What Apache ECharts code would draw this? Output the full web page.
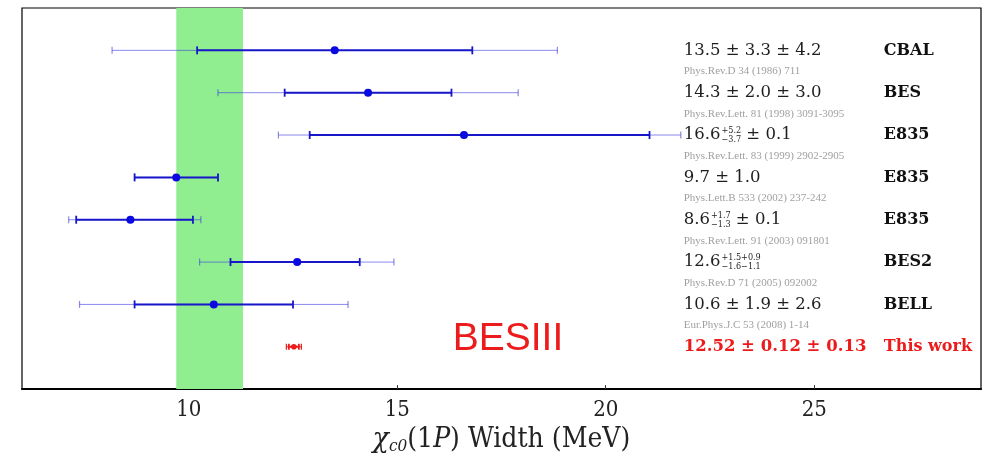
<!DOCTYPE html>
<html>
<head>
<meta charset="utf-8">
<script src="https://cdn.jsdelivr.net/npm/echarts@6/dist/echarts.min.js"></script>
<style>
  html, body { margin: 0; padding: 0; background: #fff; }
  #chart { width: 985px; height: 460px; }
</style>
</head>
<body>
<div id="chart"></div>
<script>
// chi_c0(1P) width measurements, top to bottom
const experiments = ['CBAL', 'BES', 'E835', 'E835', 'E835', 'BES2', 'BELL', 'This work'];
const rowPositions = [8, 7, 6, 5, 4, 3, 2, 1];
const centralValues = [13.5, 14.3, 16.6, 9.7, 8.6, 12.6, 10.6, 12.52];
// statistical (inner) error bar ends
const statLow  = [10.2, 12.3, 12.9, 8.7, 7.3, 11.0, 8.7, 12.40];
const statHigh = [16.8, 16.3, 21.05, 10.7, 10.1, 14.1, 12.5, 12.64];
// total (outer) error bar ends
const totalLow  = [8.16, 10.7, 12.15, 8.7, 7.12, 10.26, 7.38, 12.34];
const totalHigh = [18.84, 17.9, 21.8, 10.7, 10.29, 14.92, 13.82, 12.70];
// value text; ^{..}_{..} marks stacked super/subscripts
const valueLabels = [
  '13.5 ± 3.3 ± 4.2',
  '14.3 ± 2.0 ± 3.0',
  '16.6^{+5.2}_{−3.7} ± 0.1',
  '9.7 ± 1.0',
  '8.6^{+1.7}_{−1.3} ± 0.1',
  '12.6^{+1.5+0.9}_{−1.6−1.1}',
  '10.6 ± 1.9 ± 2.6',
  '12.52 ± 0.12 ± 0.13'
];
const references = [
  'Phys.Rev.D 34 (1986) 711',
  'Phys.Rev.Lett. 81 (1998) 3091-3095',
  'Phys.Rev.Lett. 83 (1999) 2902-2905',
  'Phys.Lett.B 533 (2002) 237-242',
  'Phys.Rev.Lett. 91 (2003) 091801',
  'Phys.Rev.D 71 (2005) 092002',
  'Eur.Phys.J.C 53 (2008) 1-14',
  ''
];
const highlighted = [false, false, false, false, false, false, false, true];
// average band
const bandRange = [9.7, 11.3];
const xTicks = [10, 15, 20, 25];

const BLUE = '#1717c9';
const BLUE_LIGHT = 'rgba(60,60,225,0.6)';
const RED = '#ec1c1c';

// columns for the text block, in axis units
const VALUE_COL = 21.87;
const NAME_COL = 26.67;

const measureCtx = document.createElement('canvas').getContext('2d');
function textWidth(str, font) {
  measureCtx.font = font;
  return measureCtx.measureText(str).width;
}
function parseLabel(s) {
  const out = [];
  const re = /\^\{([^}]*)\}_\{([^}]*)\}/g;
  let last = 0, m;
  while ((m = re.exec(s))) {
    if (m.index > last) out.push({ text: s.slice(last, m.index) });
    out.push({ sup: m[1], sub: m[2] });
    last = re.lastIndex;
  }
  if (last < s.length) out.push({ text: s.slice(last) });
  return out;
}

const barData = experiments.map((e, i) => [
  rowPositions[i], centralValues[i], statLow[i], statHigh[i], totalLow[i], totalHigh[i], highlighted[i] ? 1 : 0
]);
const textData = experiments.map((e, i) => [rowPositions[i], i]);

function renderBar(params, api) {
  const row = api.value(0);
  const hi = api.value(6) === 1;
  const c = api.coord([api.value(1), row]);
  const sL = api.coord([api.value(2), row]);
  const sH = api.coord([api.value(3), row]);
  const tL = api.coord([api.value(4), row]);
  const tH = api.coord([api.value(5), row]);
  const y = c[1];
  const inner = hi ? RED : BLUE;
  const outer = hi ? RED : BLUE_LIGHT;
  const capO = hi ? 3 : 3.5;
  const capI = hi ? 3 : 4;
  const line = (x1, y1, x2, y2, color, w) => ({
    type: 'line', shape: { x1, y1, x2, y2 }, style: { stroke: color, lineWidth: w }
  });
  return {
    type: 'group',
    children: [
      line(tL[0], y, tH[0], y, outer, 1),
      line(tL[0], y - capO, tL[0], y + capO, outer, 1.2),
      line(tH[0], y - capO, tH[0], y + capO, outer, 1.2),
      line(sL[0], y, sH[0], y, inner, 2),
      line(sL[0], y - capI, sL[0], y + capI, inner, 1.8),
      line(sH[0], y - capI, sH[0], y + capI, inner, 1.8),
      { type: 'circle', shape: { cx: c[0], cy: y, r: hi ? 2.8 : 4 }, style: { fill: hi ? RED : '#0a0ae0' } }
    ]
  };
}

function renderText(params, api) {
  const row = api.value(0);
  const i = api.value(1);
  const hi = highlighted[i];
  const p = api.coord([VALUE_COL, row]);
  const pn = api.coord([NAME_COL, row]);
  const pr = api.coord([VALUE_COL, row - 0.5]);
  const color = hi ? RED : '#1e1e1e';
  const mainFont = (hi ? 'bold ' : '') + "16.5px 'DejaVu Serif'";
  const scriptFont = "9px 'DejaVu Serif Condensed'";
  const children = [];
  let x = p[0];
  parseLabel(valueLabels[i]).forEach(seg => {
    if (seg.text !== undefined) {
      children.push({ type: 'text', x: x, y: p[1], style: { text: seg.text, font: mainFont, fill: color, align: 'left', verticalAlign: 'middle' } });
      x += textWidth(seg.text, mainFont);
    } else {
      x += 1;
      children.push({ type: 'text', x: x, y: p[1] - 4.5, style: { text: seg.sup, font: scriptFont, fill: color, align: 'left', verticalAlign: 'middle' } });
      children.push({ type: 'text', x: x, y: p[1] + 5, style: { text: seg.sub, font: scriptFont, fill: color, align: 'left', verticalAlign: 'middle' } });
      x += Math.max(textWidth(seg.sup, scriptFont), textWidth(seg.sub, scriptFont));
    }
  });
  children.push({ type: 'text', x: pn[0], y: pn[1], style: { text: experiments[i], font: "bold 16px 'DejaVu Serif'", fill: hi ? RED : '#111', align: 'left', verticalAlign: 'middle' } });
  if (references[i]) {
    children.push({ type: 'text', x: pr[0], y: pr[1], style: { text: references[i], font: "11px 'Liberation Serif'", fill: '#a0a0a0', align: 'left', verticalAlign: 'middle' } });
  }
  return { type: 'group', children };
}

const chart = echarts.init(document.getElementById('chart'), null, { renderer: 'canvas' });
chart.setOption({
  animation: false,
  backgroundColor: '#fff',
  grid: { left: 22, right: 4, top: 8, bottom: 70, show: true, borderColor: '#000', borderWidth: 1.2, backgroundColor: 'transparent' },
  xAxis: {
    type: 'value',
    min: 6,
    max: 29,
    name: '{g|χ}{s|c0}{n|(1}{i|P}{n|) Width (MeV)}',
    nameLocation: 'middle',
    nameGap: 33,
    nameTextStyle: {
      rich: {
        g: { fontFamily: 'DejaVu Serif', fontStyle: 'italic', fontSize: 27, color: '#222', lineHeight: 30 },
        s: { fontFamily: 'DejaVu Serif Condensed', fontStyle: 'italic', fontSize: 17, color: '#222', verticalAlign: 'bottom', lineHeight: 19, padding: [10, 0, 0, 0] },
        i: { fontFamily: 'DejaVu Serif Condensed', fontStyle: 'italic', fontSize: 28, color: '#222', lineHeight: 30 },
        n: { fontFamily: 'DejaVu Serif Condensed', fontSize: 28, color: '#222', lineHeight: 30 }
      }
    },
    axisLine: { show: true, onZero: false, lineStyle: { color: '#000', width: 2 } },
    axisTick: { show: true, inside: true, length: 4, customValues: xTicks, lineStyle: { color: '#333' } },
    axisLabel: { customValues: xTicks, fontFamily: 'DejaVu Serif Condensed', fontSize: 22, color: '#222', margin: 10 },
    splitLine: { show: false }
  },
  yAxis: {
    type: 'value',
    min: 0,
    max: 9,
    show: false
  },
  series: [
    {
      type: 'custom',
      name: 'measurements',
      renderItem: renderBar,
      data: barData,
      encode: { x: [1, 2, 3, 4, 5], y: 0 },
      z: 3,
      silent: true,
      markArea: {
        silent: true,
        itemStyle: { color: '#90ee90', opacity: 1 },
        data: [[{ xAxis: bandRange[0] }, { xAxis: bandRange[1] }]]
      }
    },
    {
      type: 'custom',
      name: 'labels',
      renderItem: renderText,
      data: textData,
      encode: { y: 0 },
      z: 4,
      silent: true
    },
    {
      type: 'custom',
      name: 'tag',
      renderItem: (params, api) => {
        const p = api.coord([api.value(0), api.value(1)]);
        return { type: 'text', x: p[0], y: p[1], style: { text: 'BESIII', font: "39px 'Liberation Sans'", fill: RED, align: 'left', verticalAlign: 'middle' } };
      },
      data: [[16.33, 1.18]],
      z: 4,
      silent: true
    }
  ]
});
</script>
</body>
</html>
